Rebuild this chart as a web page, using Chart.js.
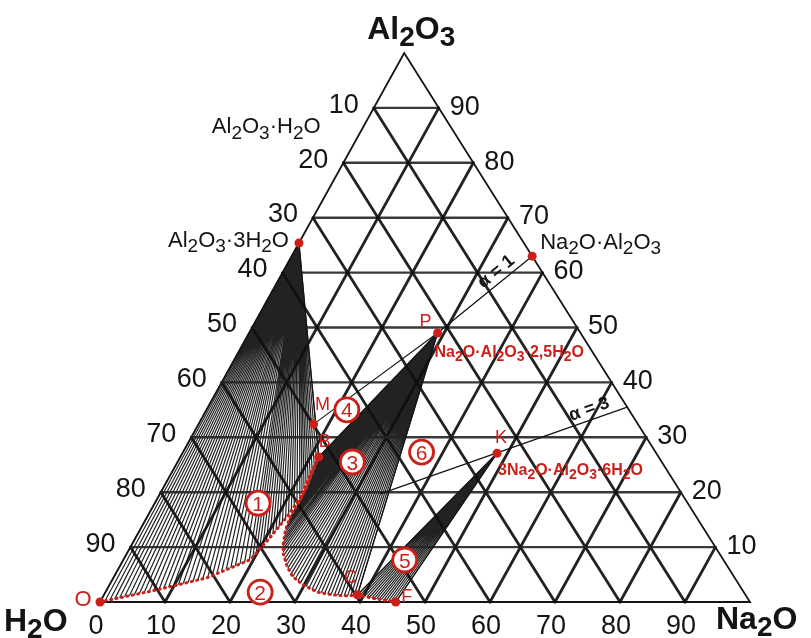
<!DOCTYPE html>
<html>
<head>
<meta charset="utf-8">
<script src="https://cdn.jsdelivr.net/npm/chart.js@4.4.0/dist/chart.umd.min.js"></script>
<style>
  html, body { margin: 0; padding: 0; background: #fff; }
  #chart { display: block; }
</style>
</head>
<body>
<canvas id="chart" width="811" height="638"></canvas>
<script>
// Compositions are [Na2O %, Al2O3 %]; the rest is H2O.
// The Al2O3 corner is drawn a bit left of the middle, as in the scanned diagram.
const APEX_SHIFT = 46.8;

const gridSteps = [10, 20, 30, 40, 50, 60, 70, 80, 90];
const baseTicks = [0, 10, 20, 30, 40, 50, 60, 70, 80, 90];
const leftTicks = [10, 20, 30, 40, 50, 60, 70, 80, 90];
const rightTicks = [10, 20, 30, 40, 50, 60, 70, 80, 90];

// phases and invariant points
const gibbsite = [0, 65.4];      // Al2O3·3H2O
const boehmite = [0, 85];        // Al2O3·H2O (label only)
const aluminate = [37, 63];      // Na2O·Al2O3
const pointP = [29, 49];         // Na2O·Al2O3·2,5H2O
const pointM = [17.7, 32.4];
const pointB = [21.3, 26.4];
const pointK = [48.4, 27.1];     // 3Na2O·Al2O3·6H2O
const pointC = [39, 1.3];
const pointF = [45.5, 0];
const pointO = [0, 0];

// solubility curves
const curveOB = [[0, 0], [7.7, 2.2], [14.4, 4.4], [19.5, 7.7], [20.7, 11.8], [21.5, 15.5],
                 [21.9, 19.1], [21.6, 22.2], [21.4, 24.4], [21.3, 26.4]];
const curveBC = [[21.3, 26.4], [21.6, 24.0], [22.0, 20.9], [22.1, 18.0], [22.0, 15.5], [22.4, 13.1],
                 [23.2, 10.7], [24.0, 8.9], [25.8, 6.4], [27.5, 4.6], [29.8, 3.1], [32.6, 1.8],
                 [35.2, 1.3], [37.5, 1.1], [39, 1.3]];
const curveCF = [[39, 1.3], [42, 0.6], [45.5, 0]];

// mole ratio lines
const alpha1Line = [pointP, aluminate];
const alpha3Line = [[33.9, 19.7], [64.5, 35.5]];

// region numbers
const regionSpots = [[15.9, 18.0], [23.8, 1.8], [26.9, 25.5], [21.6, 35.0], [43.3, 7.65], [36.7, 27.3]];

const RED = '#cc1f1a';
const INK = '#141414';

function pt(c) {
  return { x: c[0] + c[1] * APEX_SHIFT / 100, y: c[1] };
}

function lineSet(comps, color, width, dash, order) {
  return {
    data: comps.map(pt),
    showLine: true,
    borderColor: color,
    borderWidth: width,
    borderDash: dash || [],
    borderCapStyle: 'round',
    pointRadius: 0,
    fill: false,
    tension: 0,
    clip: false,
    order: order
  };
}

const datasets = [];

// grid, three families of lines
gridSteps.forEach(g => {
  datasets.push(lineSet([[0, g], [100 - g, g]], 'rgba(35,35,35,0.9)', 2.4, null, 5));
  datasets.push(lineSet([[g, 0], [g, 100 - g]], 'rgba(15,15,15,0.92)', 2.8, null, 5));
  datasets.push(lineSet([[100 - g, 0], [0, 100 - g]], 'rgba(15,15,15,0.92)', 2.8, null, 5));
});
datasets.push(lineSet([[0, 0], [100, 0], [0, 100], [0, 0]], INK, 1.8, null, 5));

// tie lines and mole ratio lines
datasets.push(lineSet([gibbsite, pointB], INK, 1.3, null, 3));
datasets.push(lineSet([pointP, pointB], INK, 1.3, null, 3));
datasets.push(lineSet([pointP, pointM], INK, 1.1, null, 3));
datasets.push(lineSet([pointP, pointC], INK, 1.3, null, 3));
datasets.push(lineSet([pointK, pointC], INK, 1.3, null, 3));
datasets.push(lineSet([pointK, pointF], INK, 1.3, null, 3));
datasets.push(lineSet(alpha1Line, INK, 1.3, null, 3));
datasets.push(lineSet(alpha3Line, INK, 1.3, null, 3));

// red curves
datasets.push(lineSet(curveOB, RED, 3, [1, 4.5], 1));
datasets.push(lineSet(curveBC.slice(0, 4), RED, 2, null, 1));
datasets.push(lineSet(curveBC, RED, 3, [1, 4.5], 1));
datasets.push(lineSet(curveCF, RED, 3, [1, 4.5], 1));

// red points
datasets.push({
  data: [gibbsite, aluminate, pointP, pointM, pointB, pointK, pointC, pointF, pointO].map(pt),
  showLine: false,
  pointRadius: 4.5,
  pointBackgroundColor: RED,
  pointBorderWidth: 0,
  clip: false,
  order: 0
});

// pixel position of a composition
function px(chart, c) {
  const p = pt(c);
  return { x: chart.scales.x.getPixelForValue(p.x), y: chart.scales.y.getPixelForValue(p.y) };
}

// tie line fans (hatching)
function drawFan(chart, apex, curve, count) {
  const ctx = chart.ctx;
  const a = px(chart, apex);
  const pts = curve.map(c => px(chart, c));
  const seg = [];
  let total = 0;
  for (let i = 1; i < pts.length; i++) {
    const d = Math.hypot(pts[i].x - pts[i - 1].x, pts[i].y - pts[i - 1].y);
    seg.push(d);
    total += d;
  }
  ctx.beginPath();
  for (let k = 0; k <= count; k++) {
    let s = total * k / count;
    let i = 0;
    while (i < seg.length - 1 && s > seg[i]) { s -= seg[i]; i++; }
    const t = seg[i] ? Math.min(1, s / seg[i]) : 0;
    ctx.moveTo(a.x, a.y);
    ctx.lineTo(pts[i].x + (pts[i + 1].x - pts[i].x) * t, pts[i].y + (pts[i + 1].y - pts[i].y) * t);
  }
  ctx.stroke();
}

// text with subscripts: "_2" lowers the next character
function drawRich(ctx, str, x, y, o) {
  const fam = o.family || "'Liberation Sans', Arial, sans-serif";
  const w = o.weight || 'normal';
  const mainFont = w + ' ' + o.size + 'px ' + fam;
  const subFont = w + ' ' + Math.round(o.size * 0.88) + 'px ' + fam;
  const runs = [];
  for (let i = 0; i < str.length; i++) {
    if (str[i] === '_' && i + 1 < str.length) { runs.push({ t: str[i + 1], sub: true }); i++; }
    else runs.push({ t: str[i], sub: false });
  }
  let width = 0;
  runs.forEach(r => {
    ctx.font = r.sub ? subFont : mainFont;
    r.w = ctx.measureText(r.t).width;
    width += r.w;
  });
  let cx = x;
  if (o.align === 'center') cx = x - width / 2;
  if (o.align === 'right') cx = x - width;
  const base = y + o.size * 0.36;
  ctx.fillStyle = o.color || INK;
  ctx.textAlign = 'left';
  ctx.textBaseline = 'alphabetic';
  runs.forEach(r => {
    ctx.font = r.sub ? subFont : mainFont;
    ctx.fillText(r.t, cx, r.sub ? base + o.size * 0.24 : base);
    cx += r.w;
  });
}

const diagramPlugin = {
  id: 'diagram',
  beforeDatasetsDraw(chart) {
    const ctx = chart.ctx;
    ctx.save();
    ctx.strokeStyle = 'rgba(10,10,10,0.9)';
    ctx.lineWidth = 1.2;
    drawFan(chart, gibbsite, curveOB, 56);
    drawFan(chart, pointP, curveBC, 60);
    drawFan(chart, pointK, curveCF, 16);
    ctx.restore();
  },
  afterDatasetsDraw(chart) {
    const ctx = chart.ctx;
    ctx.save();
    const tickFont = { size: 27, family: "'Liberation Sans Narrow', 'Arial Narrow', 'Liberation Sans', Arial, sans-serif" };

    baseTicks.forEach(v => {
      const p = px(chart, [v, 0]);
      drawRich(ctx, String(v), p.x - 4, p.y + 22, Object.assign({ align: 'center' }, tickFont));
    });
    leftTicks.forEach(v => {
      const p = px(chart, [0, 100 - v]);
      drawRich(ctx, String(v), p.x - 15, p.y - 5, Object.assign({ align: 'right' }, tickFont));
    });
    rightTicks.forEach(v => {
      const p = px(chart, [100 - v, v]);
      drawRich(ctx, String(v), p.x + 11, p.y - 3, Object.assign({ align: 'left' }, tickFont));
    });

    // corner names
    const top = px(chart, [0, 100]);
    drawRich(ctx, 'Al_2O_3', top.x + 7, 27, { size: 32, weight: 'bold', align: 'center' });
    drawRich(ctx, 'H_2O', 4, 619, { size: 32, weight: 'bold', align: 'left' });
    drawRich(ctx, 'Na_2O', 716, 617, { size: 32, weight: 'bold', align: 'left' });

    // phase names
    let p = px(chart, boehmite);
    drawRich(ctx, 'Al_2O_3·H_2O', p.x - 38, p.y - 10, { size: 22, align: 'right' });
    p = px(chart, gibbsite);
    drawRich(ctx, 'Al_2O_3·3H_2O', p.x - 10, p.y - 4, { size: 22, align: 'right' });
    p = px(chart, aluminate);
    drawRich(ctx, 'Na_2O·Al_2O_3', p.x + 8, p.y - 15, { size: 22, align: 'left' });
    p = px(chart, pointP);
    drawRich(ctx, 'Na_2O·Al_2O_3·2,5H_2O', p.x - 3, p.y + 18, { size: 16, weight: 'bold', align: 'left', color: RED });
    p = px(chart, pointK);
    drawRich(ctx, '3Na_2O·Al_2O_3·6H_2O', p.x + 1, p.y + 16, { size: 16, weight: 'bold', align: 'left', color: RED });

    // point letters
    const letters = [['P', pointP, -12, -12], ['M', pointM, 9, -21], ['B', pointB, 6, -17],
                     ['K', pointK, 4, -17], ['C', pointC, -7, -18], ['F', pointF, 11, -6], ['O', pointO, -17, -4]];
    letters.forEach(l => {
      const q = px(chart, l[1]);
      drawRich(ctx, l[0], q.x + l[2], q.y + l[3], { size: l[0] === 'O' ? 22 : 18, align: 'center', color: RED });
    });

    // region numbers in circles
    regionSpots.forEach((c, i) => {
      const q = px(chart, c);
      ctx.beginPath();
      ctx.arc(q.x, q.y, 12, 0, Math.PI * 2);
      ctx.fillStyle = '#fff';
      ctx.fill();
      ctx.lineWidth = 2.8;
      ctx.strokeStyle = RED;
      ctx.stroke();
      drawRich(ctx, String(i + 1), q.x, q.y, { size: 21, align: 'center', color: RED });
    });

    // mole ratio labels
    [[alpha1Line, 'α = 1', 0.69], [alpha3Line, 'α = 3', 0.86]].forEach(a => {
      const s = px(chart, a[0][0]);
      const e = px(chart, a[0][1]);
      const ang = Math.atan2(e.y - s.y, e.x - s.x);
      const mx = s.x + (e.x - s.x) * a[2];
      const my = s.y + (e.y - s.y) * a[2];
      ctx.save();
      ctx.translate(mx + Math.sin(ang) * 12, my - Math.cos(ang) * 12);
      ctx.rotate(ang);
      drawRich(ctx, a[1], 0, 0, { size: 18, weight: 'bold', align: 'center' });
      ctx.restore();
    });

    ctx.restore();
  }
};

new Chart(document.getElementById('chart'), {
  type: 'scatter',
  data: { datasets: datasets },
  options: {
    responsive: false,
    animation: false,
    devicePixelRatio: 1,
    layout: { padding: { left: 100, right: 61, top: 53, bottom: 36 } },
    scales: {
      x: { type: 'linear', min: 0, max: 100, display: false },
      y: { type: 'linear', min: 0, max: 100, display: false }
    },
    plugins: { legend: { display: false }, tooltip: { enabled: false } }
  },
  plugins: [diagramPlugin]
});
</script>
</body>
</html>
